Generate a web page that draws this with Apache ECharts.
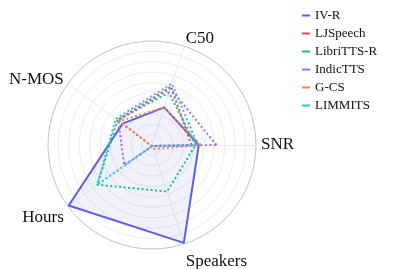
<!DOCTYPE html>
<html>
<head>
<meta charset="utf-8">
<script src="https://cdn.jsdelivr.net/npm/echarts@6/dist/echarts.min.js"></script>
<style>
  html, body { margin: 0; padding: 0; background: #fff; }
  #radar { width: 394px; height: 269px; }
</style>
</head>
<body>
<div id="radar"></div>
<script>
  // axes, counter-clockwise from the right
  const axisNames = ['SNR', 'C50', 'N-MOS', 'Hours', 'Speakers']

  // normalised scores, same order as axisNames
  const ivR = [0.45, 0.38, 0.35, 0.99, 0.99]
  const ljSpeech = [0.38, 0.59, 0.41, 0.01, 0.01]
  const libriTtsR = [0.42, 0.53, 0.41, 0.65, 0.47]
  const indicTts = [0.62, 0.57, 0.40, 0.33, 0.01]
  const gCs = [0.47, 0.38, 0.39, 0.01, 0.04]
  const limmits = [0.44, 0.62, 0.43, 0.65, 0.01]

  const datasets = [
    {name: 'IV-R', value: ivR, color: '#5b5ef0', solid: true},
    {name: 'LJSpeech', value: ljSpeech, color: '#e0504a'},
    {name: 'LibriTTS-R', value: libriTtsR, color: '#1cbf86'},
    {name: 'IndicTTS', value: indicTts, color: '#a96cf4'},
    {name: 'G-CS', value: gCs, color: '#f2894c'},
    {name: 'LIMMITS', value: limmits, color: '#2cc4e2'},
  ]

  const serif = '"Liberation Serif", "DejaVu Serif", serif'

  // small nudges so the names sit like in the source figure
  const nameShift = {
    'SNR': [0, 0, 0, 0],
    'C50': [0, 0, 6, 0],
    'N-MOS': [0, 0, 2, 0],
    'Hours': [16, 0, 0, 0],
    'Speakers': [26, 0, 0, 0],
  }
  const rich = {}
  axisNames.forEach((n, i) => {
    rich['n' + i] = {fontFamily: serif, fontSize: 17, color: '#111', padding: nameShift[n]}
  })

  // ring 0 is the centre point, the last one is the outer border
  const ringColors = []
  for (let i = 0; i < 10; i++) ringColors.push('#ededed')
  ringColors.push('#c4c4c4')

  const option = {
    animation: false,
    backgroundColor: '#fff',
    legend: {
      orient: 'vertical',
      left: 297,
      top: 4,
      itemWidth: 8,
      itemHeight: 2,
      itemGap: 5,
      icon: 'rect',
      textStyle: {fontFamily: serif, fontSize: 13, color: '#111'},
      data: datasets.map(d => d.name)
    },
    radar: {
      center: [152, 145],
      radius: 104,
      startAngle: 0,
      splitNumber: 10,
      shape: 'circle',
      nameGap: 5,
      indicator: axisNames.map(n => ({name: n, min: 0, max: 1})),
      axisName: {
        formatter: (name) => `{n${axisNames.indexOf(name)}|${name}}`,
        rich: rich
      },
      axisLine: {lineStyle: {color: '#ececec', width: 1}},
      splitLine: {lineStyle: {color: ringColors, width: 1}},
      splitArea: {show: false}
    },
    series: [{
      type: 'radar',
      symbol: 'none',
      data: datasets.map(d => ({
        name: d.name,
        value: d.value,
        itemStyle: {color: d.color},
        lineStyle: {color: d.color, width: 2, type: d.solid ? 'solid' : [2, 2.5]},
        areaStyle: d.solid ? {color: 'rgba(91, 94, 240, 0.12)'} : undefined
      }))
    }]
  }

  const myChart = echarts.init(document.getElementById('radar'))
  myChart.setOption(option)
</script>
</body>
</html>
